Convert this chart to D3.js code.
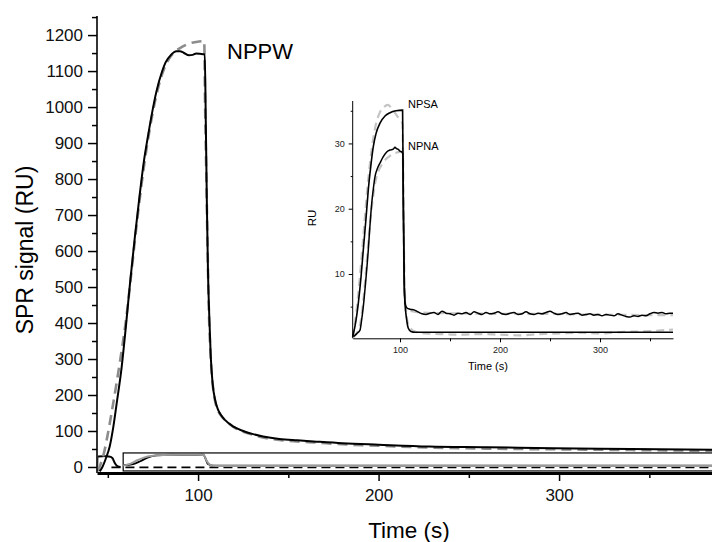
<!DOCTYPE html>
<html>
<head>
<meta charset="utf-8">
<script src="https://cdn.jsdelivr.net/npm/d3@7"></script>
<style>
  body { margin: 0; background: #fff; }
  svg { display: block; font-family: "Liberation Sans", Arial, sans-serif; }
</style>
</head>
<body>
<div id="chart-container"></div>
<script>
// main panel: NPPW sensorgram (time s, RU)
const nppwData = [
    [45.5, -12], [47, 0], [49, 25], [51, 56], [53, 110], [55, 180], [57.7, 279], [60, 390],
    [62.3, 511], [65, 640], [67.5, 750], [70, 850], [72, 912], [74, 970], [77, 1045], [80, 1098],
    [82, 1124], [85, 1145], [88, 1155], [90, 1155], [92, 1151], [95, 1144], [97, 1145], [99, 1149],
    [101, 1148], [103.7, 1146], [104.3, 950], [104.9, 720], [105.5, 540], [106.2, 420], [107, 310],
    [108, 235], [109.5, 185], [111, 160], [112.5, 146], [115, 130], [119.6, 112], [125, 100],
    [130, 92], [136, 85], [145, 78], [155, 74], [164, 71], [180, 66], [200, 62], [228, 57],
    [260, 55], [297, 52], [340, 50], [385, 48]
];
const nppwFit = [
    [44.5, -12], [46, 8], [48, 42], [50, 92], [52, 148], [55, 238], [58, 335], [60, 405],
    [62.5, 515], [65, 630], [67.5, 738], [70, 835], [72, 902], [75, 988], [78, 1056], [81, 1104],
    [84, 1135], [87, 1153], [90, 1164], [93, 1172], [96, 1178], [99, 1181], [103.4, 1183],
    [103.9, 1000], [104.6, 800], [105.3, 600], [106, 430], [106.9, 315], [108, 235], [109.5, 182],
    [111, 157], [113, 141], [116, 126], [120, 110], [125, 98], [130, 90], [136, 82], [145, 75],
    [155, 71], [165, 68], [180, 63], [200, 59], [228, 54], [260, 51], [300, 49], [340, 47], [385, 45]
];
// small curves drawn at the main scale
const preBlack = [[44.6, 29], [48, 30], [51, 29], [52.5, 25], [54, 10], [55.5, 2], [57, 0]];
const preGray = [[44.3, 0], [44.6, 30], [50, 30], [52, 27], [54, 10], [55.5, 1], [57, 0]];
const smallGray = [
    [58.5, 4], [62, 8], [66, 18], [70, 26], [75, 31], [80, 33], [90, 34], [100, 34], [103, 33],
    [105, 15], [107, 5], [110, 3], [385, 3]
];
const smallBlack = [
    [58.5, 5], [64, 8], [68, 16], [72, 26], [77, 32], [85, 34], [95, 34], [103, 34], [104, 25],
    [105.5, 8], [108, 4], [385, 3.5]
];
const zeroDash = [[52, -1], [385, -1]];
const zoomBox = {t0: 58.5, t1: 400, v0: -11, v1: 39};

// inset: NPSA and NPNA
const npsaInset = [
    [52.7, 0.4], [55, 2], [58.3, 5.5], [61, 9.5], [63.3, 13.7], [66, 18.5], [68.3, 22.9], [71, 26.8],
    [73.3, 29.5], [76, 31.5], [80, 33.1], [85, 34.2], [90, 34.7], [96, 35], [102.6, 35.1],
    [103.3, 20], [104.2, 9], [105, 5.6], [106.5, 3.2], [108.3, 1.7], [111, 1.2], [115, 1.07], [373, 1.07]
];
const npsaInsetFit = [
    [52.7, 0.3], [55, 2.5], [58, 6.5], [61, 11.5], [64, 17], [67, 22.5], [70, 27], [73, 30.5],
    [76, 33], [80, 34.8], [84, 35.6], [88, 35.9], [92, 35.3], [96.7, 34.3], [100, 33.6], [102.5, 33],
    [103.5, 20], [104.5, 9], [106, 4.5], [108, 2.4], [111, 1.6], [115, 1.2], [125, 0.9], [140, 0.8],
    [160, 0.7], [180, 0.8], [200, 0.7], [220, 0.6], [240, 0.8], [260, 0.9], [280, 1.0], [300, 0.9],
    [320, 1.1], [340, 1.2], [355, 1.3], [365, 1.4], [373, 1.5]
];
const npnaInset = [
    [53.3, 0.4], [57, 0.9], [60, 1.4], [61.5, 2.8], [63.3, 5], [65.5, 8.5], [68.3, 13.7], [70, 17.5],
    [71.7, 20.8], [73.3, 23], [75, 24.9], [77.5, 26.2], [80, 27], [83, 27.9], [86.7, 28.7], [90, 29],
    [93, 29.1], [95, 29.4], [96.5, 29.2], [98.3, 29.1], [100, 28.8], [101.7, 28.7], [102.8, 28.4],
    [103.6, 18], [104.3, 8], [105, 5.5], [107, 4.8], [110, 4.6], [114, 4.5], [118, 4.2], [122, 3.9],
    [126, 3.8], [130, 4.0], [134, 4.1], [138, 3.8], [142, 4.3], [146, 4.0], [150, 3.9], [154, 3.7],
    [158, 4.0], [162, 3.9], [166, 4.1], [170, 3.8], [174, 4.2], [178, 4.0], [182, 3.8], [186, 4.1],
    [190, 3.9], [194, 4.0], [198, 4.2], [202, 3.9], [206, 3.8], [210, 4.0], [214, 4.1], [218, 3.8],
    [222, 3.9], [226, 4.2], [230, 3.9], [234, 3.8], [238, 4.0], [242, 3.9], [246, 4.1], [250, 4.3],
    [254, 4.0], [258, 3.8], [262, 3.9], [266, 4.1], [270, 3.8], [274, 3.9], [278, 4.0], [282, 3.7],
    [286, 3.8], [290, 3.9], [294, 3.7], [298, 3.8], [302, 3.6], [306, 3.8], [310, 3.7], [314, 3.6],
    [318, 3.9], [322, 3.7], [326, 3.5], [330, 3.4], [334, 3.6], [338, 3.5], [342, 3.7], [346, 3.6],
    [350, 3.9], [354, 4.1], [358, 4.0], [362, 4.1], [366, 3.9], [370, 4.0], [373, 4.0]
];
const npnaInsetFit = [
    [53.3, 0.3], [57, 1], [60, 2.2], [63, 5.5], [66, 10.5], [69, 16], [72, 20.5], [75, 23.8],
    [78, 25.6], [82, 26.8], [86, 27.6], [90, 28.1], [95, 28.5], [100, 28.7], [102.8, 28.6],
    [103.6, 18], [104.4, 8], [105.3, 5.2], [107, 4.5], [112, 4.3], [120, 4.1], [140, 4.0],
    [170, 3.95], [200, 3.9], [240, 3.9], [280, 3.8], [320, 3.75], [350, 3.7], [373, 3.7]
];

const mainYTicks = [0, 100, 200, 300, 400, 500, 600, 700, 800, 900, 1000, 1100, 1200];
const mainYMinor = [50, 150, 250, 350, 450, 550, 650, 750, 850, 950, 1050, 1150, 1250];
const mainXTicks = [100, 200, 300];
const mainXMinor = [50, 150, 250, 350];
const insetYTicks = [10, 20, 30];
const insetYMinor = [5, 15, 25, 35];
const insetXTicks = [100, 200, 300];
const insetXMinor = [150, 250, 350];

const width = 712, height = 542;

const svg = d3.select("#chart-container").append("svg")
    .attr("width", width)
    .attr("height", height);

// ---- main scales
const xMain = d3.scaleLinear().domain([44, 385]).range([97, 712.5]);
const yMain = d3.scaleLinear().domain([-16.7, 1253]).range([473, 16]);

const lineMain = d3.line()
    .x(d => xMain(d[0]))
    .y(d => yMain(d[1]))
    .curve(d3.curveMonotoneX);

// zoom rectangle
svg.append("rect")
    .attr("x", xMain(zoomBox.t0))
    .attr("y", yMain(zoomBox.v1))
    .attr("width", xMain(zoomBox.t1) - xMain(zoomBox.t0))
    .attr("height", yMain(zoomBox.v0) - yMain(zoomBox.v1))
    .attr("fill", "none")
    .attr("stroke", "#000")
    .attr("stroke-width", 1.2);

function drawPath(g, data, line, color, w, dash) {
    g.append("path")
        .datum(data)
        .attr("d", line)
        .attr("fill", "none")
        .attr("stroke", color)
        .attr("stroke-width", w)
        .attr("stroke-dasharray", dash || null);
}

drawPath(svg, preGray, lineMain, "#9a9a9a", 2);
drawPath(svg, preBlack, lineMain, "#000", 1.8);
drawPath(svg, zeroDash, lineMain, "#000", 1.8, "9,5");
drawPath(svg, smallBlack, lineMain, "#000", 1.8);
drawPath(svg, smallGray, lineMain, "#9a9a9a", 2);
drawPath(svg, nppwFit, lineMain, "#8c8c8c", 2.6, "10,6");
drawPath(svg, nppwData, lineMain, "#000", 2);

const fmt = d3.format("d");

// main y axis
svg.append("g")
    .attr("transform", `translate(${xMain(44)},0)`)
    .call(d3.axisLeft(yMain).tickValues(mainYMinor).tickSize(5).tickFormat(""))
    .call(g => g.select(".domain").remove())
    .selectAll("line").attr("stroke-width", 1.5);

const yAxisG = svg.append("g")
    .attr("transform", `translate(${xMain(44)},0)`)
    .call(d3.axisLeft(yMain).tickValues(mainYTicks).tickFormat(fmt).tickSize(9).tickSizeOuter(0).tickPadding(5));
yAxisG.select(".domain").attr("stroke-width", 1.6).attr("d", `M0,${yMain(1253)}V${473}`);
yAxisG.selectAll("line").attr("stroke-width", 1.5);
yAxisG.selectAll("text").style("font-size", "17px").attr("fill", "#111");

// main x axis
svg.append("g")
    .attr("transform", `translate(0,473)`)
    .call(d3.axisBottom(xMain).tickValues(mainXMinor).tickSize(5).tickFormat(""))
    .call(g => g.select(".domain").remove())
    .selectAll("line").attr("stroke-width", 1.5);

const xAxisG = svg.append("g")
    .attr("transform", `translate(0,473)`)
    .call(d3.axisBottom(xMain).tickValues(mainXTicks).tickFormat(fmt).tickSize(8).tickSizeOuter(0).tickPadding(8));
xAxisG.select(".domain").attr("stroke-width", 3);
xAxisG.selectAll("line").attr("stroke-width", 1.5);
xAxisG.selectAll("text").style("font-size", "17px").attr("fill", "#111");

svg.append("text")
    .attr("x", 409)
    .attr("y", 538)
    .attr("text-anchor", "middle")
    .style("font-size", "22.5px")
    .text("Time (s)");

svg.append("text")
    .attr("transform", "translate(33,250) rotate(-90)")
    .attr("text-anchor", "middle")
    .style("font-size", "23px")
    .text("SPR signal (RU)");

svg.append("text")
    .attr("x", 227)
    .attr("y", 59)
    .style("font-size", "22px")
    .text("NPPW");

// ---- inset
const xIn = d3.scaleLinear().domain([52.7, 373]).range([352.7, 673]);
const yIn = d3.scaleLinear().domain([0.15, 36.5]).range([338.3, 101]);

const lineIn = d3.line()
    .x(d => xIn(d[0]))
    .y(d => yIn(d[1]))
    .curve(d3.curveMonotoneX);

drawPath(svg, npsaInsetFit, lineIn, "#c4c4c4", 2.2, "8,5");
drawPath(svg, npnaInsetFit, lineIn, "#c4c4c4", 2.2, "8,5");
drawPath(svg, npsaInset, lineIn, "#000", 1.6);
drawPath(svg, npnaInset, lineIn, "#000", 1.5);

svg.append("g")
    .attr("transform", `translate(${xIn(52.7)},0)`)
    .call(d3.axisLeft(yIn).tickValues(insetYMinor).tickSize(2).tickFormat(""))
    .call(g => g.select(".domain").remove());

const yInG = svg.append("g")
    .attr("transform", `translate(${xIn(52.7)},0)`)
    .call(d3.axisLeft(yIn).tickValues(insetYTicks).tickFormat(fmt).tickSize(4).tickSizeOuter(0).tickPadding(4));
yInG.select(".domain").attr("d", `M0,${yIn(36.5)}V${yIn(0.15)}`);
yInG.selectAll("text").style("font-size", "9px").attr("fill", "#222");

svg.append("g")
    .attr("transform", `translate(0,${yIn(0.15)})`)
    .call(d3.axisBottom(xIn).tickValues(insetXMinor).tickSize(3).tickFormat(""))
    .call(g => g.select(".domain").remove());

const xInG = svg.append("g")
    .attr("transform", `translate(0,${yIn(0.15)})`)
    .call(d3.axisBottom(xIn).tickValues(insetXTicks).tickFormat(fmt).tickSize(4).tickSizeOuter(0).tickPadding(4));
xInG.selectAll("text").style("font-size", "9px").attr("fill", "#222");

svg.append("text")
    .attr("x", 488)
    .attr("y", 370)
    .attr("text-anchor", "middle")
    .style("font-size", "11px")
    .text("Time (s)");

svg.append("text")
    .attr("transform", "translate(316,218) rotate(-90)")
    .attr("text-anchor", "middle")
    .style("font-size", "11.5px")
    .text("RU");

svg.append("text")
    .attr("x", 408)
    .attr("y", 107.5)
    .style("font-size", "11px")
    .text("NPSA");

svg.append("text")
    .attr("x", 408)
    .attr("y", 150)
    .style("font-size", "11px")
    .text("NPNA");
</script>
</body>
</html>
